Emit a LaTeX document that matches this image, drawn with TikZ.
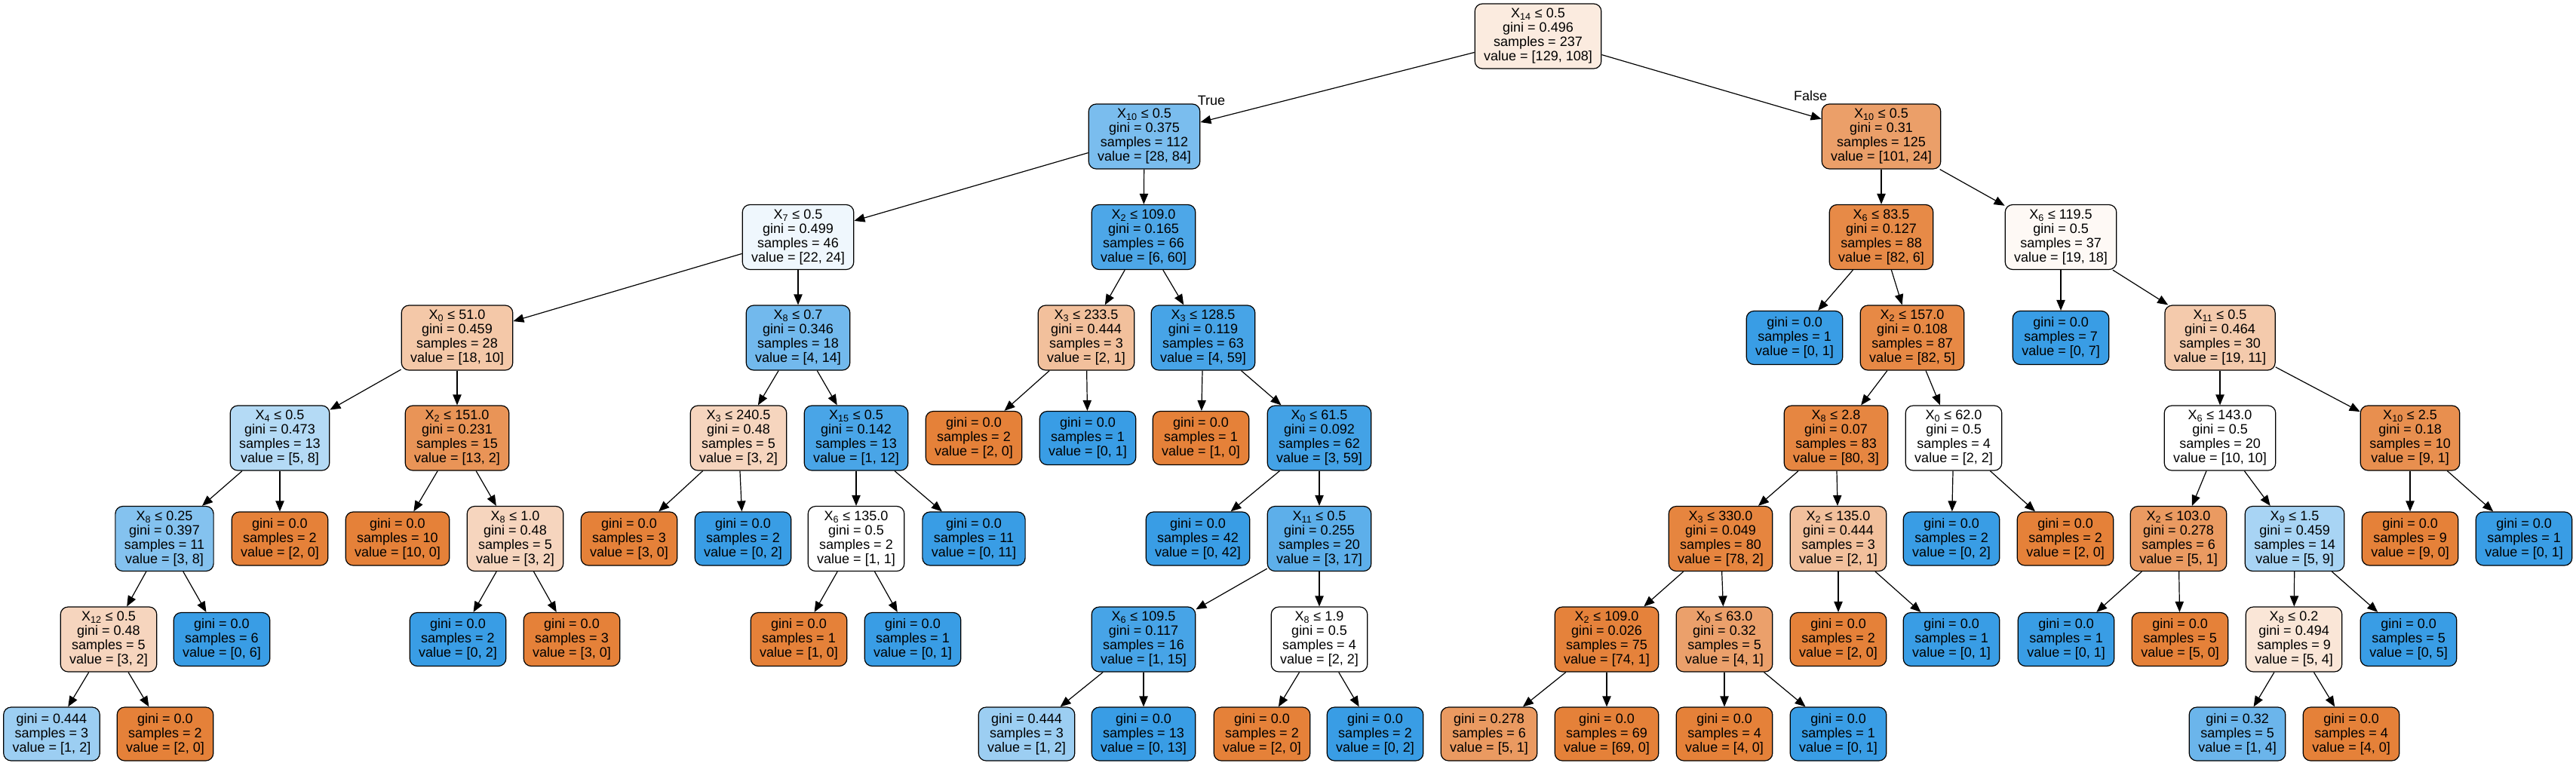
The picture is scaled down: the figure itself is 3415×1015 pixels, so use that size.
\documentclass[tikz,border=0pt]{standalone}
\usepackage{fontspec}
\setmainfont{Liberation Sans}
\usetikzlibrary{arrows.meta}

\definecolor{clsA}{HTML}{E58139}
\definecolor{clsB}{HTML}{399DE5}

\begin{document}
\begin{tikzpicture}[x=0.75pt,y=0.75pt,yscale=-1,xscale=1,
  decision/.style={draw=black, rounded corners=7.5pt, line width=0.9pt, align=center,
    inner xsep=9pt, inner ysep=2pt, minimum height=64.5pt, font=\fontsize{13.5}{14.25}\selectfont},
  leaf/.style={decision, minimum height=53.25pt},
  link/.style={-{Triangle[length=10.5pt,width=8.5pt]}, line width=0.9pt},
  tflabel/.style={inner sep=0pt, font=\fontsize{13.5}{14.25}\selectfont}]
%set diagram size
\useasboundingbox (0,0) rectangle (3415,1015);

% Level 0
\node[decision, fill=clsA!16] (n0) at (2039,48) {X\textsubscript{14} ≤ 0.5\\gini = 0.496\\samples = 237\\value = [129, 108]};

% Level 1
\node[decision, fill=clsB!67] (n1) at (1517,181) {X\textsubscript{10} ≤ 0.5\\gini = 0.375\\samples = 112\\value = [28, 84]};
\node[decision, fill=clsA!76] (n40) at (2494,181) {X\textsubscript{10} ≤ 0.5\\gini = 0.31\\samples = 125\\value = [101, 24]};

% Level 2
\node[decision, fill=clsB!8] (n2) at (1058,314.5) {X\textsubscript{7} ≤ 0.5\\gini = 0.499\\samples = 46\\value = [22, 24]};
\node[decision, fill=clsB!90] (n25) at (1516,314.5) {X\textsubscript{2} ≤ 109.0\\gini = 0.165\\samples = 66\\value = [6, 60]};
\node[decision, fill=clsA!93] (n41) at (2494,314.5) {X\textsubscript{6} ≤ 83.5\\gini = 0.127\\samples = 88\\value = [82, 6]};
\node[decision, fill=clsA!5] (n58) at (2732,314.5) {X\textsubscript{6} ≤ 119.5\\gini = 0.5\\samples = 37\\value = [19, 18]};

% Level 3
\node[decision, fill=clsA!44] (n3) at (606,448) {X\textsubscript{0} ≤ 51.0\\gini = 0.459\\samples = 28\\value = [18, 10]};
\node[decision, fill=clsB!71] (n16) at (1058,448) {X\textsubscript{8} ≤ 0.7\\gini = 0.346\\samples = 18\\value = [4, 14]};
\node[decision, fill=clsA!50] (n26) at (1440,448) {X\textsubscript{3} ≤ 233.5\\gini = 0.444\\samples = 3\\value = [2, 1]};
\node[decision, fill=clsB!93] (n29) at (1595,448) {X\textsubscript{3} ≤ 128.5\\gini = 0.119\\samples = 63\\value = [4, 59]};
\node[leaf, fill=clsB] (n42) at (2379,448) {gini = 0.0\\samples = 1\\value = [0, 1]};
\node[decision, fill=clsA!94] (n43) at (2535,448) {X\textsubscript{2} ≤ 157.0\\gini = 0.108\\samples = 87\\value = [82, 5]};
\node[leaf, fill=clsB] (n59) at (2732,448) {gini = 0.0\\samples = 7\\value = [0, 7]};
\node[decision, fill=clsA!42] (n60) at (2943,448) {X\textsubscript{11} ≤ 0.5\\gini = 0.464\\samples = 30\\value = [19, 11]};

% Level 4
\node[decision, fill=clsB!38] (n4) at (371,581) {X\textsubscript{4} ≤ 0.5\\gini = 0.473\\samples = 13\\value = [5, 8]};
\node[decision, fill=clsA!85] (n11) at (606,581) {X\textsubscript{2} ≤ 151.0\\gini = 0.231\\samples = 15\\value = [13, 2]};
\node[decision, fill=clsA!33] (n17) at (979,581) {X\textsubscript{3} ≤ 240.5\\gini = 0.48\\samples = 5\\value = [3, 2]};
\node[decision, fill=clsB!92] (n20) at (1135,581) {X\textsubscript{15} ≤ 0.5\\gini = 0.142\\samples = 13\\value = [1, 12]};
\node[leaf, fill=clsA] (n27) at (1291,581) {gini = 0.0\\samples = 2\\value = [2, 0]};
\node[leaf, fill=clsB] (n28) at (1442,581) {gini = 0.0\\samples = 1\\value = [0, 1]};
\node[leaf, fill=clsA] (n30) at (1592,581) {gini = 0.0\\samples = 1\\value = [1, 0]};
\node[decision, fill=clsB!95] (n31) at (1749,581) {X\textsubscript{0} ≤ 61.5\\gini = 0.092\\samples = 62\\value = [3, 59]};
\node[decision, fill=clsA!96] (n44) at (2434,581) {X\textsubscript{8} ≤ 2.8\\gini = 0.07\\samples = 83\\value = [80, 3]};
\node[decision, fill=white] (n55) at (2590,581) {X\textsubscript{0} ≤ 62.0\\gini = 0.5\\samples = 4\\value = [2, 2]};
\node[decision, fill=white] (n61) at (2943,581) {X\textsubscript{6} ≤ 143.0\\gini = 0.5\\samples = 20\\value = [10, 10]};
\node[decision, fill=clsA!89] (n70) at (3195,581) {X\textsubscript{10} ≤ 2.5\\gini = 0.18\\samples = 10\\value = [9, 1]};

% Level 5
\node[decision, fill=clsB!62] (n5) at (218,714.5) {X\textsubscript{8} ≤ 0.25\\gini = 0.397\\samples = 11\\value = [3, 8]};
\node[leaf, fill=clsA] (n10) at (371,714.5) {gini = 0.0\\samples = 2\\value = [2, 0]};
\node[leaf, fill=clsA] (n12) at (527,714.5) {gini = 0.0\\samples = 10\\value = [10, 0]};
\node[decision, fill=clsA!33] (n13) at (683,714.5) {X\textsubscript{8} ≤ 1.0\\gini = 0.48\\samples = 5\\value = [3, 2]};
\node[leaf, fill=clsA] (n18) at (834,714.5) {gini = 0.0\\samples = 3\\value = [3, 0]};
\node[leaf, fill=clsB] (n19) at (985,714.5) {gini = 0.0\\samples = 2\\value = [0, 2]};
\node[decision, fill=white] (n21) at (1135,714.5) {X\textsubscript{6} ≤ 135.0\\gini = 0.5\\samples = 2\\value = [1, 1]};
\node[leaf, fill=clsB] (n24) at (1291,714.5) {gini = 0.0\\samples = 11\\value = [0, 11]};
\node[leaf, fill=clsB] (n32) at (1588,714.5) {gini = 0.0\\samples = 42\\value = [0, 42]};
\node[decision, fill=clsB!82] (n33) at (1749,714.5) {X\textsubscript{11} ≤ 0.5\\gini = 0.255\\samples = 20\\value = [3, 17]};
\node[decision, fill=clsA!97] (n45) at (2281,714.5) {X\textsubscript{3} ≤ 330.0\\gini = 0.049\\samples = 80\\value = [78, 2]};
\node[decision, fill=clsA!50] (n52) at (2437,714.5) {X\textsubscript{2} ≤ 135.0\\gini = 0.444\\samples = 3\\value = [2, 1]};
\node[leaf, fill=clsB] (n56) at (2587,714.5) {gini = 0.0\\samples = 2\\value = [0, 2]};
\node[leaf, fill=clsA] (n57) at (2738,714.5) {gini = 0.0\\samples = 2\\value = [2, 0]};
\node[decision, fill=clsA!80] (n62) at (2888,714.5) {X\textsubscript{2} ≤ 103.0\\gini = 0.278\\samples = 6\\value = [5, 1]};
\node[decision, fill=clsB!44] (n65) at (3042,714.5) {X\textsubscript{9} ≤ 1.5\\gini = 0.459\\samples = 14\\value = [5, 9]};
\node[leaf, fill=clsA] (n71) at (3195,714.5) {gini = 0.0\\samples = 9\\value = [9, 0]};
\node[leaf, fill=clsB] (n72) at (3346,714.5) {gini = 0.0\\samples = 1\\value = [0, 1]};

% Level 6
\node[decision, fill=clsA!33] (n6) at (144,848) {X\textsubscript{12} ≤ 0.5\\gini = 0.48\\samples = 5\\value = [3, 2]};
\node[leaf, fill=clsB] (n9) at (294,848) {gini = 0.0\\samples = 6\\value = [0, 6]};
\node[leaf, fill=clsB] (n14) at (607,848) {gini = 0.0\\samples = 2\\value = [0, 2]};
\node[leaf, fill=clsA] (n15) at (758,848) {gini = 0.0\\samples = 3\\value = [3, 0]};
\node[leaf, fill=clsA] (n22) at (1059,848) {gini = 0.0\\samples = 1\\value = [1, 0]};
\node[leaf, fill=clsB] (n23) at (1210,848) {gini = 0.0\\samples = 1\\value = [0, 1]};
\node[decision, fill=clsB!93] (n34) at (1516,848) {X\textsubscript{6} ≤ 109.5\\gini = 0.117\\samples = 16\\value = [1, 15]};
\node[decision, fill=white] (n37) at (1749,848) {X\textsubscript{8} ≤ 1.9\\gini = 0.5\\samples = 4\\value = [2, 2]};
\node[decision, fill=clsA!99] (n46) at (2130,848) {X\textsubscript{2} ≤ 109.0\\gini = 0.026\\samples = 75\\value = [74, 1]};
\node[decision, fill=clsA!75] (n49) at (2286,848) {X\textsubscript{0} ≤ 63.0\\gini = 0.32\\samples = 5\\value = [4, 1]};
\node[leaf, fill=clsA] (n53) at (2437,848) {gini = 0.0\\samples = 2\\value = [2, 0]};
\node[leaf, fill=clsB] (n54) at (2587,848) {gini = 0.0\\samples = 1\\value = [0, 1]};
\node[leaf, fill=clsB] (n63) at (2739,848) {gini = 0.0\\samples = 1\\value = [0, 1]};
\node[leaf, fill=clsA] (n64) at (2890,848) {gini = 0.0\\samples = 5\\value = [5, 0]};
\node[decision, fill=clsA!20] (n66) at (3041,848) {X\textsubscript{8} ≤ 0.2\\gini = 0.494\\samples = 9\\value = [5, 4]};
\node[leaf, fill=clsB] (n69) at (3193,848) {gini = 0.0\\samples = 5\\value = [0, 5]};

% Level 7
\node[leaf, fill=clsB!50] (n7) at (68.5,973.5) {gini = 0.444\\samples = 3\\value = [1, 2]};
\node[leaf, fill=clsA] (n8) at (219,973.5) {gini = 0.0\\samples = 2\\value = [2, 0]};
\node[leaf, fill=clsB!50] (n35) at (1361,973.5) {gini = 0.444\\samples = 3\\value = [1, 2]};
\node[leaf, fill=clsB] (n36) at (1516,973.5) {gini = 0.0\\samples = 13\\value = [0, 13]};
\node[leaf, fill=clsA] (n38) at (1673,973.5) {gini = 0.0\\samples = 2\\value = [2, 0]};
\node[leaf, fill=clsB] (n39) at (1823,973.5) {gini = 0.0\\samples = 2\\value = [0, 2]};
\node[leaf, fill=clsA!80] (n47) at (1974,973.5) {gini = 0.278\\samples = 6\\value = [5, 1]};
\node[leaf, fill=clsA] (n48) at (2130,973.5) {gini = 0.0\\samples = 69\\value = [69, 0]};
\node[leaf, fill=clsA] (n50) at (2286,973.5) {gini = 0.0\\samples = 4\\value = [4, 0]};
\node[leaf, fill=clsB] (n51) at (2437,973.5) {gini = 0.0\\samples = 1\\value = [0, 1]};
\node[leaf, fill=clsB!75] (n67) at (2966,973.5) {gini = 0.32\\samples = 5\\value = [1, 4]};
\node[leaf, fill=clsA] (n68) at (3117,973.5) {gini = 0.0\\samples = 4\\value = [4, 0]};

% True / False
\node[tflabel] (lblT) at (1606,133) {True};
\node[tflabel] (lblF) at (2400,127) {False};

% Edges
\foreach \a/\b in {n0/n1, n0/n40, n1/n2, n1/n25, n2/n3, n2/n16, n3/n4, n3/n11,
  n4/n5, n4/n10, n5/n6, n5/n9, n6/n7, n6/n8, n11/n12, n11/n13, n13/n14, n13/n15,
  n16/n17, n16/n20, n17/n18, n17/n19, n20/n21, n20/n24, n21/n22, n21/n23,
  n25/n26, n25/n29, n26/n27, n26/n28, n29/n30, n29/n31, n31/n32, n31/n33,
  n33/n34, n33/n37, n34/n35, n34/n36, n37/n38, n37/n39, n40/n41, n40/n58,
  n41/n42, n41/n43, n43/n44, n43/n55, n44/n45, n44/n52, n45/n46, n45/n49,
  n46/n47, n46/n48, n49/n50, n49/n51, n52/n53, n52/n54, n55/n56, n55/n57,
  n58/n59, n58/n60, n60/n61, n60/n70, n61/n62, n61/n65, n62/n63, n62/n64,
  n65/n66, n65/n69, n66/n67, n66/n68, n70/n71, n70/n72}
  \draw[link] (\a) -- (\b);

\end{tikzpicture}
\end{document}
